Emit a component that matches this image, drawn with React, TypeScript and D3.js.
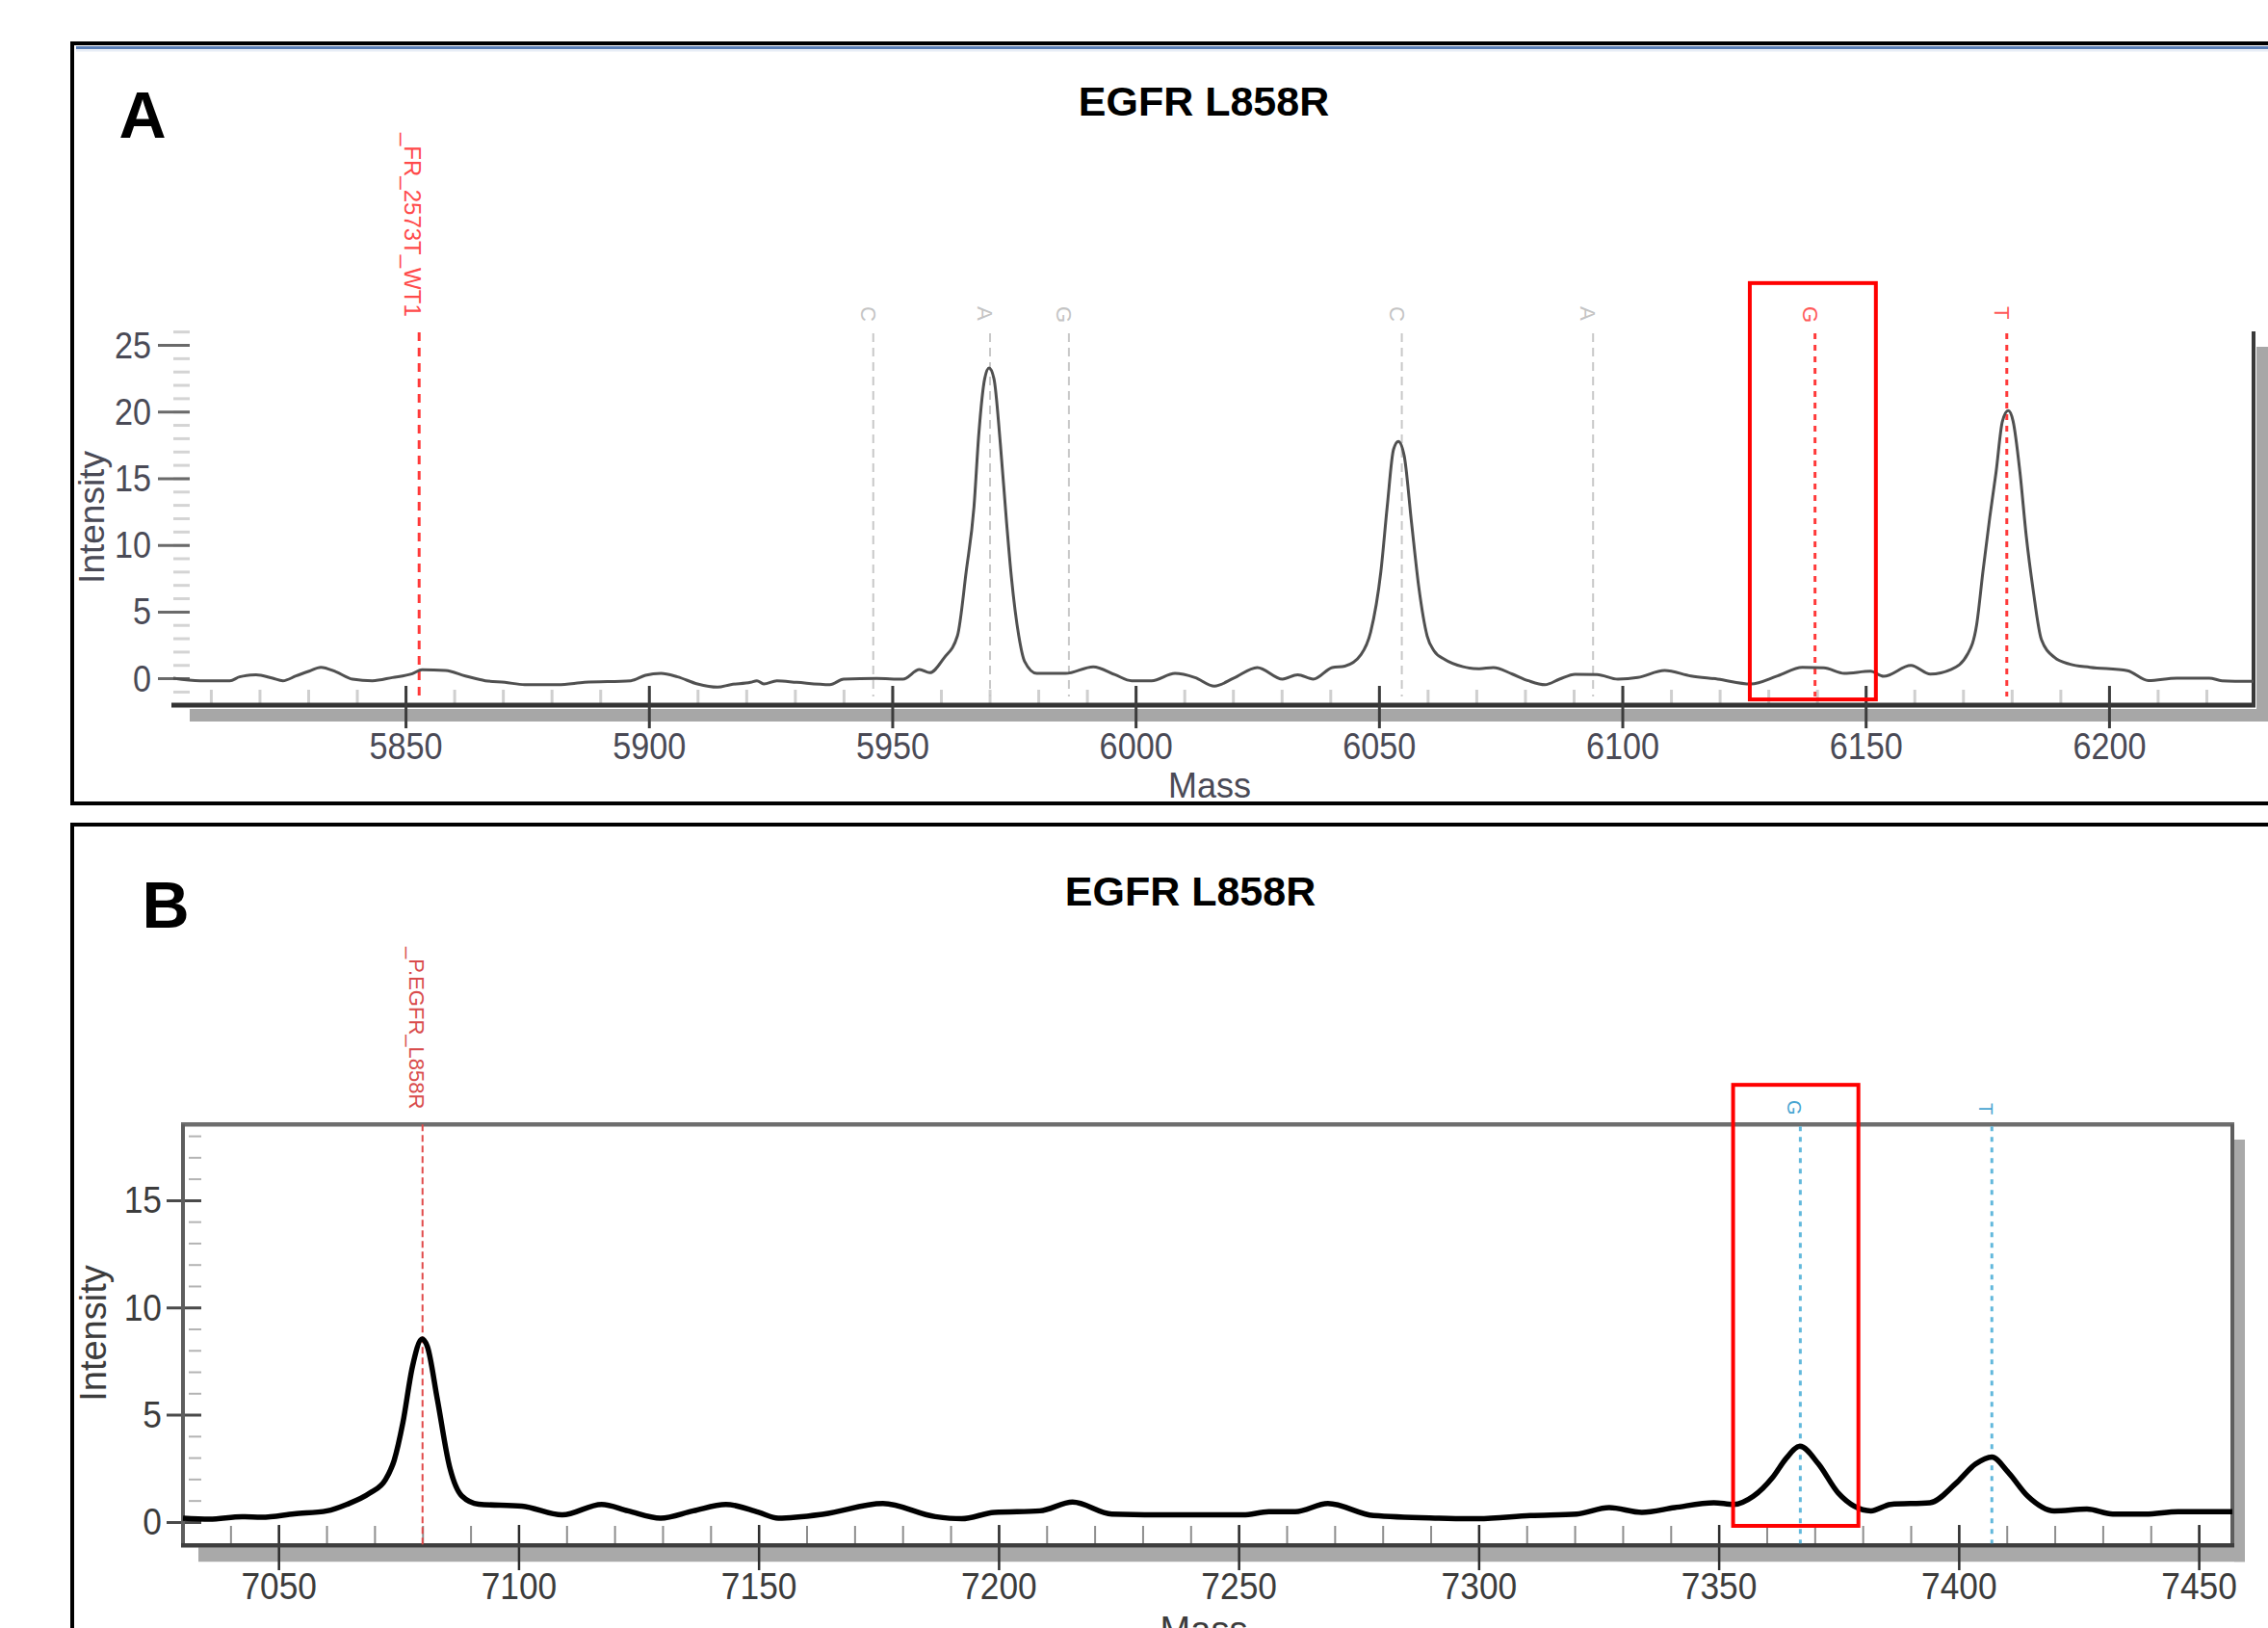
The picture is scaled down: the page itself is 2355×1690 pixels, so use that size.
import React from "react";
import * as d3 from "d3";

// panel A trace (mass, intensity)
const massA = [
  5802.2, 5807.7, 5813.8, 5815.8, 5819.2, 5822.6, 5824.7, 5827.4, 5830.1, 5832.5,
  5835.6, 5839.0, 5843.1, 5847.2, 5851.3, 5853.3, 5858.1, 5862.2, 5866.3, 5870.3,
  5874.4, 5881.2, 5886.7, 5896.2, 5899.2, 5902.4, 5905.8, 5909.9, 5914.0, 5916.7,
  5920.8, 5922.1, 5923.5, 5926.2, 5930.3, 5937.1, 5939.9, 5946.7, 5952.1, 5955.5,
  5957.6, 5960.5, 5963.3, 5965.1, 5966.7, 5967.7, 5968.9, 5969.8, 5970.8, 5972.1,
  5973.4, 5974.4, 5975.9, 5977.1, 5979.6, 5985.5, 5991.2, 5995.7, 5999.1, 6003.2,
  6008.0, 6012.1, 6016.1, 6020.1, 6024.9, 6030.1, 6033.2, 6036.4, 6040.3, 6042.9,
  6046.2, 6048.2, 6050.3, 6051.6, 6052.9, 6053.9, 6055.1, 6056.6, 6058.1, 6059.8,
  6061.2, 6063.4, 6067.2, 6070.5, 6073.4, 6077.3, 6080.6, 6084.0, 6087.0, 6090.2,
  6094.7, 6099.0, 6103.1, 6108.6, 6114.0, 6119.5, 6126.3, 6131.8, 6136.9, 6141.3,
  6145.5, 6150.9, 6153.6, 6159.2, 6163.2, 6167.5, 6170.9, 6172.7, 6174.0, 6175.4,
  6176.7, 6178.0, 6179.2, 6180.2, 6181.6, 6182.9, 6184.3, 6186.0, 6188.7, 6191.8,
  6196.0, 6203.7, 6208.0, 6213.8, 6220.5, 6223.1, 6229.6,
];
const intensityA = [
  0.04, -0.15, -0.15, 0.14, 0.3, 0.04, -0.15, 0.21, 0.57, 0.86,
  0.52, -0.03, -0.15, 0.09, 0.38, 0.67, 0.62, 0.21, -0.15, -0.27,
  -0.44, -0.44, -0.27, -0.15, 0.26, 0.4, 0.14, -0.39, -0.63, -0.44,
  -0.27, -0.15, -0.39, -0.15, -0.27, -0.44, -0.03, 0.02, -0.03, 0.69,
  0.45, 1.54, 3.22, 8.04, 12.9, 18.4, 22.5, 23.3, 22.5, 17.7,
  11.7, 7.56, 3.22, 1.3, 0.4, 0.4, 0.9, 0.3, -0.15, -0.15,
  0.4, 0.09, -0.55, 0.05, 0.84, -0.03, 0.3, -0.03, 0.84, 0.95,
  1.8, 3.5, 8.04, 12.9, 17.2, 17.8, 16.7, 11.7, 6.84, 3.22,
  2.1, 1.45, 0.9, 0.75, 0.84, 0.35, -0.15, -0.45, -0.03, 0.34,
  0.32, -0.03, 0.09, 0.62, 0.21, -0.03, -0.39, 0.21, 0.85, 0.82,
  0.4, 0.56, 0.18, 1.0, 0.35, 0.7, 1.88, 4.03, 8.04, 12.1,
  15.5, 19.3, 20.1, 19.3, 15.5, 10.7, 6.7, 2.95, 1.6, 1.1,
  0.86, 0.6, -0.14, 0.05, 0.05, -0.15, -0.2,
];

// panel B trace
const massB = [
  7030.0, 7035.5, 7042.3, 7046.4, 7053.2, 7060.0, 7064.1, 7068.8, 7072.2, 7074.0,
  7075.8, 7077.8, 7079.8, 7080.9, 7083.0, 7085.5, 7088.1, 7091.6, 7100.6, 7109.0,
  7117.2, 7122.7, 7129.5, 7136.3, 7143.1, 7149.9, 7154.0, 7163.5, 7175.8, 7186.7,
  7192.2, 7199.0, 7208.5, 7215.3, 7223.5, 7237.1, 7250.8, 7256.2, 7261.7, 7268.5,
  7278.0, 7291.6, 7299.8, 7310.7, 7320.3, 7327.1, 7333.9, 7340.7, 7348.9, 7353.0,
  7357.1, 7361.2, 7364.0, 7366.8, 7370.7, 7374.8, 7381.6, 7385.7, 7393.9, 7399.3,
  7403.4, 7406.8, 7410.2, 7414.3, 7419.8, 7426.6, 7432.0, 7438.8, 7445.6, 7456.9,
];
const intensityB = [
  0.2, 0.15, 0.27, 0.24, 0.4, 0.54, 0.84, 1.35, 2.0, 2.9,
  4.64, 7.27, 8.55, 8.2, 5.72, 2.63, 1.23, 0.85, 0.76, 0.35,
  0.84, 0.54, 0.2, 0.54, 0.84, 0.47, 0.2, 0.39, 0.88, 0.27,
  0.17, 0.47, 0.54, 0.95, 0.39, 0.35, 0.35, 0.5, 0.5, 0.88,
  0.32, 0.2, 0.17, 0.32, 0.39, 0.69, 0.47, 0.69, 0.92, 0.84,
  1.22, 2.12, 3.0, 3.55, 2.72, 1.37, 0.54, 0.84, 0.92, 1.82,
  2.72, 3.05, 2.34, 1.22, 0.54, 0.62, 0.39, 0.39, 0.5, 0.5,
];

// extension-product markers
const markerMassA = [5946.0, 5970.0, 5986.2, 6054.6, 6093.9, 6139.5, 6178.9];
const markerLabelA = ["C", "A", "G", "C", "A", "G", "T"];
const markerCallA = ["other", "other", "other", "other", "other", "expected", "expected"];
const markerMassB = [7366.9, 7406.8];
const markerLabelB = ["G", "T"];

const probeA = { label: "_FR_2573T_WT1", mass: 5852.7 };
const probeB = { label: "_P.EGFR_L858R", mass: 7079.9 };

const titleA = "EGFR L858R";
const titleB = "EGFR L858R";

const xTicksA = d3.range(5850, 6201, 50);
const xMinorA = d3.range(5810, 6221, 10);
const yTicksA = [0, 5, 10, 15, 20, 25];
const yMinorA = d3.range(-1, 27, 1);

const xTicksB = d3.range(7050, 7451, 50);
const xMinorB = d3.range(7040, 7451, 10);
const yTicksB = [0, 5, 10, 15];
const yMinorB = d3.range(0, 19, 1);

// highlight boxes (mass ranges)
const boxA = { m0: 6126.1, m1: 6152.0 };
const boxB = { m0: 7352.9, m1: 7379.0 };

const FONT = "'Liberation Sans', Arial, sans-serif";

export default function App() {
  const W = 2355;
  const H = 1690;

  // panel A scales
  const xA = d3.scaleLinear().domain([5802.2, 6229.6]).range([180, 2340]);
  const yA = d3.scaleLinear().domain([0, 25]).range([704.6, 358.5]);
  const axisYA = yA(-1.98);

  // panel B scales
  const xB = d3.scaleLinear().domain([7030, 7456.9]).range([190, 2318]);
  const yB = d3.scaleLinear().domain([0, 15]).range([1580.4, 1246.4]);
  const topB = yB(18.56);
  const botB = yB(-1.07);

  const lineA = d3
    .line<number>()
    .x((d, i) => xA(massA[i]))
    .y((d) => yA(d))
    .curve(d3.curveMonotoneX);
  const lineB = d3
    .line<number>()
    .x((d, i) => xB(massB[i]))
    .y((d) => yB(d))
    .curve(d3.curveMonotoneX);

  return (
    <svg
      width={W}
      height={H}
      viewBox={`0 0 ${W} ${H}`}
      style={{ position: "absolute", left: 0, top: 0, background: "#fff" }}
      fontFamily={FONT}
    >
      <rect width={W} height={H} fill="#fff" />

      {/* ---------- panel A ---------- */}
      <rect x={75} y={45} width={2400} height={789} fill="none" stroke="#000" strokeWidth={4} />
      <line x1={79} x2={W} y1={49.5} y2={49.5} stroke="#5b7fb6" strokeWidth={3} />
      <line x1={79} x2={W} y1={52.5} y2={52.5} stroke="#e6ecf6" strokeWidth={2} />
      <text x={148} y={143} fontSize={68} fontWeight="bold" textAnchor="middle">A</text>
      <text x={1250} y={120} fontSize={43} fontWeight="bold" textAnchor="middle">{titleA}</text>

      {/* shadows */}
      <rect x={197} y={736} width={W - 197} height={13} fill="#a7a7a7" />
      <rect x={2343} y={360} width={12} height={389} fill="#a7a7a7" />

      {/* y axis ticks */}
      {yMinorA.map((v) => (
        <line key={"ym" + v} x1={180} x2={197} y1={yA(v)} y2={yA(v)} stroke="#d4d4d4" strokeWidth={3} />
      ))}
      {yTicksA.map((v) => (
        <g key={"yt" + v}>
          <line x1={164} x2={197} y1={yA(v)} y2={yA(v)} stroke="#6a6a6a" strokeWidth={3} />
          <text
            transform={`translate(157,${yA(v) + 13}) scale(0.9,1)`}
            fontSize={38}
            textAnchor="end"
            fill="#4a4a56"
          >
            {v}
          </text>
        </g>
      ))}
      <text
        transform={`translate(108,537) rotate(-90)`}
        fontSize={37}
        textAnchor="middle"
        fill="#4a4a56"
      >
        Intensity
      </text>

      {/* x axis */}
      {xMinorA.map((v) => (
        <line key={"xm" + v} x1={xA(v)} x2={xA(v)} y1={716} y2={731} stroke="#cfcfcf" strokeWidth={3} />
      ))}
      <line x1={178} x2={2342} y1={axisYA} y2={axisYA} stroke="#333" strokeWidth={5} />
      <line x1={2340} x2={2340} y1={344} y2={axisYA + 2} stroke="#3a3a3a" strokeWidth={4} />
      {xTicksA.map((v) => (
        <g key={"xt" + v}>
          <line x1={xA(v)} x2={xA(v)} y1={712} y2={756} stroke="#3c3c3c" strokeWidth={3} />
          <text
            transform={`translate(${xA(v)},788) scale(0.9,1)`}
            fontSize={38}
            textAnchor="middle"
            fill="#4a4a56"
          >
            {v}
          </text>
        </g>
      ))}
      <text x={1256} y={828} fontSize={36} textAnchor="middle" fill="#4a4a56">Mass</text>

      {/* markers A */}
      {markerMassA.map((m, i) => {
        const exp = markerCallA[i] === "expected";
        const c = exp ? "#ff3a3a" : "#c8c8c8";
        return (
          <g key={"ma" + i}>
            <line
              x1={xA(m)}
              x2={xA(m)}
              y1={346}
              y2={723}
              stroke={c}
              strokeWidth={exp ? 3 : 2}
              strokeDasharray={exp ? "6 6" : "9 6"}
            />
            <text
              transform={`translate(${xA(m) - 13},318) rotate(90)`}
              fontSize={22}
              fill={exp ? "#ff5a5a" : "#c4c4c4"}
            >
              {markerLabelA[i]}
            </text>
          </g>
        );
      })}
      <line
        x1={xA(probeA.mass)}
        x2={xA(probeA.mass)}
        y1={345}
        y2={722}
        stroke="#ff3a3a"
        strokeWidth={3}
        strokeDasharray="9 7"
      />
      <text
        transform={`translate(${xA(probeA.mass) - 15},138) rotate(90)`}
        fontSize={24}
        fill="#ff4a4a"
      >
        {probeA.label}
      </text>

      <path d={lineA(intensityA) ?? ""} fill="none" stroke="#505050" strokeWidth={3} />

      <rect
        x={xA(boxA.m0)}
        y={yA(29.67)}
        width={xA(boxA.m1) - xA(boxA.m0)}
        height={yA(-1.55) - yA(29.67)}
        fill="none"
        stroke="#ff0000"
        strokeWidth={4}
      />

      {/* ---------- panel B ---------- */}
      <rect x={75} y={856} width={2400} height={900} fill="none" stroke="#000" strokeWidth={4} />
      <text x={172} y={963} fontSize={68} fontWeight="bold" textAnchor="middle">B</text>
      <text x={1236} y={940} fontSize={43} fontWeight="bold" textAnchor="middle">{titleB}</text>

      {/* frame shadow */}
      <rect x={206} y={botB + 2} width={2331 - 206} height={15} fill="#a9a9a9" />
      <rect x={2320} y={1183} width={11} height={botB + 17 - 1183} fill="#a9a9a9" />

      {/* y ticks B */}
      {yMinorB.map((v) => (
        <line key={"ybm" + v} x1={196} x2={209} y1={yB(v)} y2={yB(v)} stroke="#b4b4b4" strokeWidth={2} />
      ))}
      {yTicksB.map((v) => (
        <g key={"ybt" + v}>
          <line x1={173} x2={209} y1={yB(v)} y2={yB(v)} stroke="#4a4a4a" strokeWidth={3} />
          <text
            transform={`translate(168,${yB(v) + 13}) scale(0.93,1)`}
            fontSize={38}
            textAnchor="end"
            fill="#3c3c3c"
          >
            {v}
          </text>
        </g>
      ))}
      <text
        transform={`translate(110,1384) rotate(-90)`}
        fontSize={38}
        textAnchor="middle"
        fill="#3c3c3c"
      >
        Intensity
      </text>

      {/* x ticks B */}
      {xMinorB.map((v) => (
        <line key={"xbm" + v} x1={xB(v)} x2={xB(v)} y1={1584} y2={botB} stroke="#8e8e8e" strokeWidth={2} />
      ))}
      {xTicksB.map((v) => (
        <g key={"xbt" + v}>
          <line x1={xB(v)} x2={xB(v)} y1={1583} y2={1630} stroke="#2e2e2e" strokeWidth={2.5} />
          <text
            transform={`translate(${xB(v)},1660) scale(0.93,1)`}
            fontSize={38}
            textAnchor="middle"
            fill="#3c3c3c"
          >
            {v}
          </text>
        </g>
      ))}
      <text x={1250} y={1705} fontSize={38} textAnchor="middle" fill="#3c3c3c">Mass</text>

      {/* frame */}
      <line x1={188} x2={2320} y1={topB} y2={topB} stroke="#6e6e6e" strokeWidth={4.5} />
      <line x1={190} x2={190} y1={topB} y2={botB} stroke="#5e5e5e" strokeWidth={4} />
      <line x1={2318} x2={2318} y1={topB} y2={botB} stroke="#5e5e5e" strokeWidth={4} />
      <line x1={188} x2={2320} y1={botB} y2={botB} stroke="#3e3e3e" strokeWidth={4.5} />

      {/* markers B */}
      {markerMassB.map((m, i) => (
        <g key={"mb" + i}>
          <line
            x1={xB(m)}
            x2={xB(m)}
            y1={topB + 2}
            y2={botB - 2}
            stroke="#62b8dc"
            strokeWidth={3}
            strokeDasharray="5 6"
          />
          <text
            transform={`translate(${xB(m) - 13},${1142 + i * 3}) rotate(90)`}
            fontSize={20}
            fill="#4aa6d2"
          >
            {markerLabelB[i]}
          </text>
        </g>
      ))}
      <line
        x1={xB(probeB.mass)}
        x2={xB(probeB.mass)}
        y1={topB}
        y2={botB}
        stroke="#e04a4a"
        strokeWidth={2}
        strokeDasharray="7 4"
      />
      <text
        transform={`translate(${xB(probeB.mass) - 14},983) rotate(90)`}
        fontSize={22}
        fill="#d94c4c"
      >
        {probeB.label}
      </text>

      <path
        d={lineB(intensityB) ?? ""}
        fill="none"
        stroke="#000"
        strokeWidth={5.5}
        strokeLinejoin="round"
      />

      <rect
        x={xB(boxB.m0)}
        y={yB(20.4)}
        width={xB(boxB.m1) - xB(boxB.m0)}
        height={yB(-0.16) - yB(20.4)}
        fill="none"
        stroke="#ff0000"
        strokeWidth={4}
      />
    </svg>
  );
}
